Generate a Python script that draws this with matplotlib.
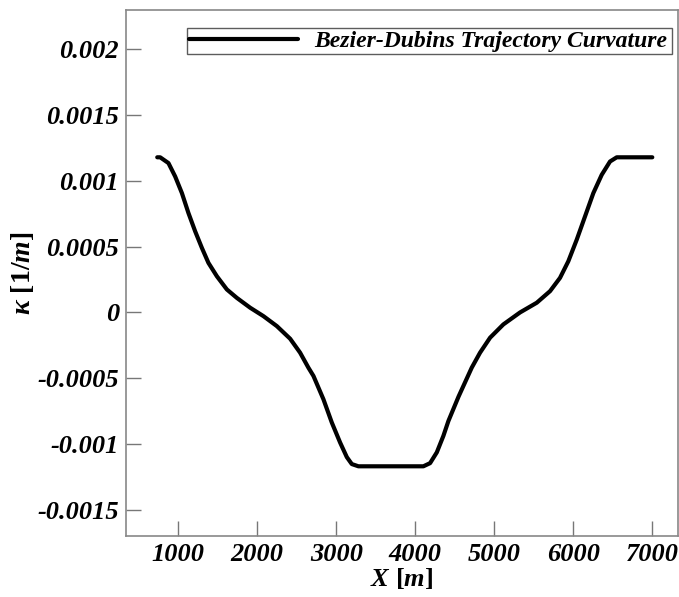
import matplotlib
matplotlib.use('Agg')
import matplotlib.pyplot as plt

plt.rcParams['font.family'] = ['Liberation Serif', 'DejaVu Serif']
plt.rcParams['mathtext.fontset'] = 'custom'
plt.rcParams['mathtext.rm'] = 'Liberation Serif:bold'
plt.rcParams['mathtext.it'] = 'Liberation Serif:italic:bold'
plt.rcParams['mathtext.bf'] = 'Liberation Serif:bold'

# curvature
x_pos = [735, 772, 877, 962, 1047, 1130, 1215, 1300, 1383, 1490, 1616, 1742,
         1911, 2079, 2249, 2417, 2543, 2648, 2712, 2838, 2944, 3049, 3134,
         3197, 3281, 4103, 4188, 4273, 4356, 4420, 4548, 4715, 4820, 4947,
         5115, 5326, 5538, 5706, 5832, 5937, 6044, 6149, 6254, 6360, 6465,
         6550, 7000]
kappa = [0.00118, 0.00118, 0.001136, 0.001034, 0.000908, 0.000756, 0.000617,
         0.000491, 0.000377, 0.000275, 0.000175, 0.000111, 0.000036,
         -0.000028, -0.000104, -0.0002, -0.000306, -0.00042, -0.000483,
         -0.00066, -0.000837, -0.000989, -0.0011, -0.001153, -0.00117,
         -0.00117, -0.001146, -0.001064, -0.000939, -0.000825, -0.00064,
         -0.00042, -0.000306, -0.000192, -0.000091, 0.0, 0.000074, 0.000162,
         0.000263, 0.000389, 0.000554, 0.000731, 0.000908, 0.001047,
         0.001148, 0.00118, 0.00118]

x_ticks = [1000, 2000, 3000, 4000, 5000, 6000, 7000]
y_ticks = [0.002, 0.0015, 0.001, 0.0005, 0, -0.0005, -0.001, -0.0015]
y_labels = ['0.002', '0.0015', '0.001', '0.0005', '0', '-0.0005', '-0.001', '-0.0015']

fig = plt.figure(figsize=(6.79, 5.97), dpi=100)
ax = fig.add_axes([0.1856, 0.1022, 0.8129, 0.881])

ax.plot(x_pos, kappa, color='black', lw=3.0, solid_joinstyle='round',
        solid_capstyle='round', label='Bezier-Dubins Trajectory Curvature')

ax.set_xlim(340, 7325)
ax.set_ylim(-0.0017, 0.0023)
ax.set_xticks(x_ticks)
ax.set_xticklabels([str(v) for v in x_ticks])
ax.set_yticks(y_ticks)
ax.set_yticklabels(y_labels)

tick_font = dict(family='Liberation Serif', weight='bold', style='italic', size=19)
for lab in ax.get_xticklabels() + ax.get_yticklabels():
    lab.set_fontproperties(matplotlib.font_manager.FontProperties(**tick_font))

ax.tick_params(direction='in', length=11, width=1, color='#777777', pad=5)
for sp in ax.spines.values():
    sp.set_color('#888888')
    sp.set_linewidth(1.2)

ax.set_xlabel(r'$X\ [m]$', fontsize=19, labelpad=0)
ax.set_ylabel(r'$\kappa\ [1/m]$', fontsize=20, labelpad=1)

leg = ax.legend(loc='lower left', bbox_to_anchor=(0.1105, 0.916, 0.878, 0.059),
                mode='expand', frameon=True, fancybox=False, handlelength=4.6,
                handletextpad=0.7, borderpad=0.1, borderaxespad=0,
                prop=dict(family='Liberation Serif', weight='bold', style='italic', size=17))
leg.get_frame().set_edgecolor('#333333')
leg.get_frame().set_linewidth(1.0)

fig.savefig('out.png', dpi=100)
